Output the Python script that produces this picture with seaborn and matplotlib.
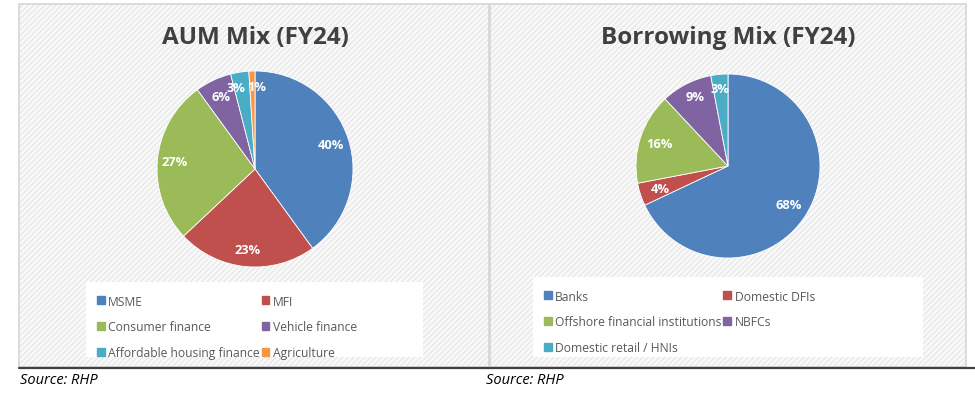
import matplotlib.pyplot as plt
import matplotlib.patches as mpatches
from matplotlib.lines import Line2D
import seaborn as sns

sns.set_style("white")
plt.rcParams["font.family"] = ["Open Sans", "DejaVu Sans"]

# data
aum_labels = ["MSME", "MFI", "Consumer finance", "Vehicle finance",
              "Affordable housing finance", "Agriculture"]
aum_values = [40, 23, 27, 6, 3, 1]

borrow_labels = ["Banks", "Domestic DFIs", "Offshore financial institutions",
                 "NBFCs", "Domestic retail / HNIs"]
borrow_values = [68, 4, 16, 9, 3]

# excel-like palette
colors = sns.color_palette(["#4F81BD", "#C0504D", "#9BBB59", "#8064A2", "#4BACC6", "#F79646"])

W, H = 975, 402
fig = plt.figure(figsize=(W / 100, H / 100), dpi=100)
fig.patch.set_facecolor("white")


def px_rect(x0, y0, x1, y1):
    # pixel box (top-left origin) -> figure fraction
    return [x0 / W, 1 - y1 / H, (x1 - x0) / W, (y1 - y0) / H]


plt.rcParams["hatch.color"] = "#f0f0f0"
plt.rcParams["hatch.linewidth"] = 0.4


def panel(x0, x1):
    l, b, w, h = px_rect(x0, 5, x1, 368)
    fig.patches.append(mpatches.Rectangle((l, b), w, h, transform=fig.transFigure,
                                          facecolor="#f8f8f8", edgecolor="#d6d6d6",
                                          lw=1.2, hatch="//////", zorder=0))


panel(19, 489)
panel(490, 966)


def draw(cx, cy, r, values, labels, title, pctd, legbox, order, nudges):
    ax = fig.add_axes(px_rect(cx - r, cy - r, cx + r, cy + r))
    ax.set_zorder(3)
    ax.patch.set_alpha(0)
    wedges, texts, autotexts = ax.pie(values, colors=colors[:len(values)], startangle=90,
                                      counterclock=False, autopct="%1.0f%%",
                                      pctdistance=pctd,
                                      wedgeprops=dict(linewidth=0.6, edgecolor="white"),
                                      textprops=dict(color="white", fontsize=9.3,
                                                     fontweight="bold"))
    # small slices: push labels up/apart like the original
    for i, (dx, dy) in nudges.items():
        x, y = autotexts[i].get_position()
        autotexts[i].set_position((x + dx, y + dy))
    ax.set_xlim(-1, 1)
    ax.set_ylim(-1, 1)
    ax.set_aspect("equal")
    fig.text(cx / W, 1 - 38 / H, title, ha="center", va="center",
             fontsize=17.5, fontweight="bold", color="#404040", zorder=3)
    # white legend box
    x0, y0, x1, y1 = legbox
    l, b, w, h = px_rect(x0, y0, x1, y1)
    fig.patches.append(mpatches.Rectangle((l, b), w, h, transform=fig.transFigure,
                                          facecolor="white", edgecolor="none", zorder=1))
    handles = [mpatches.Patch(color=colors[i], label=labels[i]) for i in range(len(values))]
    handles = [handles[i] for i in order]
    leg = fig.legend(handles=handles, ncol=2, loc="upper left",
                     bbox_to_anchor=((x0 + 1) / W, 1 - (y0 + 3) / H),
                     frameon=False, fontsize=8.7, handlelength=0.65, handleheight=0.65,
                     handletextpad=0.3, columnspacing=0.15, labelspacing=1.05,
                     borderpad=0.3, labelcolor="#595959")
    leg.set_zorder(4)


draw(255, 170, 98, aum_values, aum_labels, "AUM Mix (FY24)", 0.82,
     (86, 283, 423, 358), [0, 2, 4, 1, 3, 5],
     {4: (-0.07, 0.02), 5: (0.04, 0.02)})
draw(728, 167, 92, borrow_values, borrow_labels, "Borrowing Mix (FY24)", 0.78,
     (533, 278, 923, 358), [0, 2, 4, 1, 3],
     {3: (0.0, 0.06), 4: (-0.01, 0.07)})

# separator line and sources
fig.add_artist(Line2D([19 / W, 1.0], [1 - 369 / H] * 2, transform=fig.transFigure,
                      color="#404040", lw=1.6))
fig.text(20 / W, 1 - 381 / H, "Source: RHP", fontsize=10.5, fontstyle="italic",
         va="center", ha="left", color="black")
fig.text(486 / W, 1 - 381 / H, "Source: RHP", fontsize=10.5, fontstyle="italic",
         va="center", ha="left", color="black")

fig.savefig("out.png", dpi=100, facecolor="white")
